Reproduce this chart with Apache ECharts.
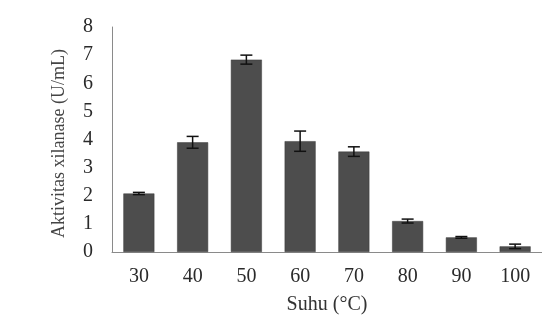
<!DOCTYPE html>
<html><head><meta charset="utf-8">
<script src="https://cdn.jsdelivr.net/npm/echarts@6/dist/echarts.min.js"></script>
<style>html,body{margin:0;padding:0;background:#fff}#c{width:542px;height:320px}</style>
</head><body><div id="c"></div>
<script>
var categories = ['30','40','50','60','70','80','90','100'];
var values = [2.08, 3.9, 6.84, 3.94, 3.57, 1.1, 0.52, 0.2];
var errors = [0.04, 0.21, 0.16, 0.36, 0.17, 0.07, 0.03, 0.08];
var yTicks = [0,1,2,3,4,5,6,7,8];

var chart = echarts.init(document.getElementById('c'));
var font = '"Liberation Serif", "DejaVu Serif", serif';
chart.setOption({
  animation: false,
  backgroundColor: '#ffffff',
  grid: {left: 112, top: 27, width: 437, height: 226},
  xAxis: {
    type: 'category', data: categories,
    axisLine: {lineStyle: {color: '#8a8a8a', width: 1}},
    axisTick: {show: false},
    axisLabel: {color: '#2a2a2a', fontFamily: font, fontSize: 20, margin: 15},
    name: 'Suhu (°C)', nameLocation: 'middle', nameGap: 43,
    nameTextStyle: {color: '#333', fontFamily: font, fontSize: 20}
  },
  yAxis: {
    type: 'value', min: 0, max: 8, interval: 1,
    axisLine: {show: true, lineStyle: {color: '#8a8a8a', width: 1}},
    axisTick: {show: false},
    splitLine: {show: false},
    axisLabel: {color: '#2a2a2a', fontFamily: font, fontSize: 20, margin: 19,
      formatter: function(v){ return yTicks.indexOf(v) >= 0 ? String(v) : ''; }},
    name: 'Aktivitas xilanase (U/mL)', nameLocation: 'middle', nameGap: 44,
    nameTextStyle: {color: '#444', fontFamily: font, fontSize: 18, padding: [0, 8, 0, 0]}
  },
  series: [{
    type: 'bar', data: values, barWidth: 31,
    itemStyle: {color: '#4d4d4d', borderColor: '#3a3a3a', borderWidth: 0.5}
  }, {
    type: 'custom',
    data: values.map(function(v, i){ return [i, v - errors[i], v + errors[i]]; }),
    renderItem: function(params, api) {
      var lo = api.coord([api.value(0), api.value(1)]);
      var hi = api.coord([api.value(0), api.value(2)]);
      var hw = 6;
      var st = {stroke: '#111', lineWidth: 1.5};
      return {type: 'group', children: [
        {type: 'line', shape: {x1: hi[0], y1: hi[1], x2: lo[0], y2: lo[1]}, style: st},
        {type: 'line', shape: {x1: hi[0]-hw, y1: hi[1], x2: hi[0]+hw, y2: hi[1]}, style: st},
        {type: 'line', shape: {x1: lo[0]-hw, y1: lo[1], x2: lo[0]+hw, y2: lo[1]}, style: st}
      ]};
    },
    z: 10
  }]
});
</script></body></html>
